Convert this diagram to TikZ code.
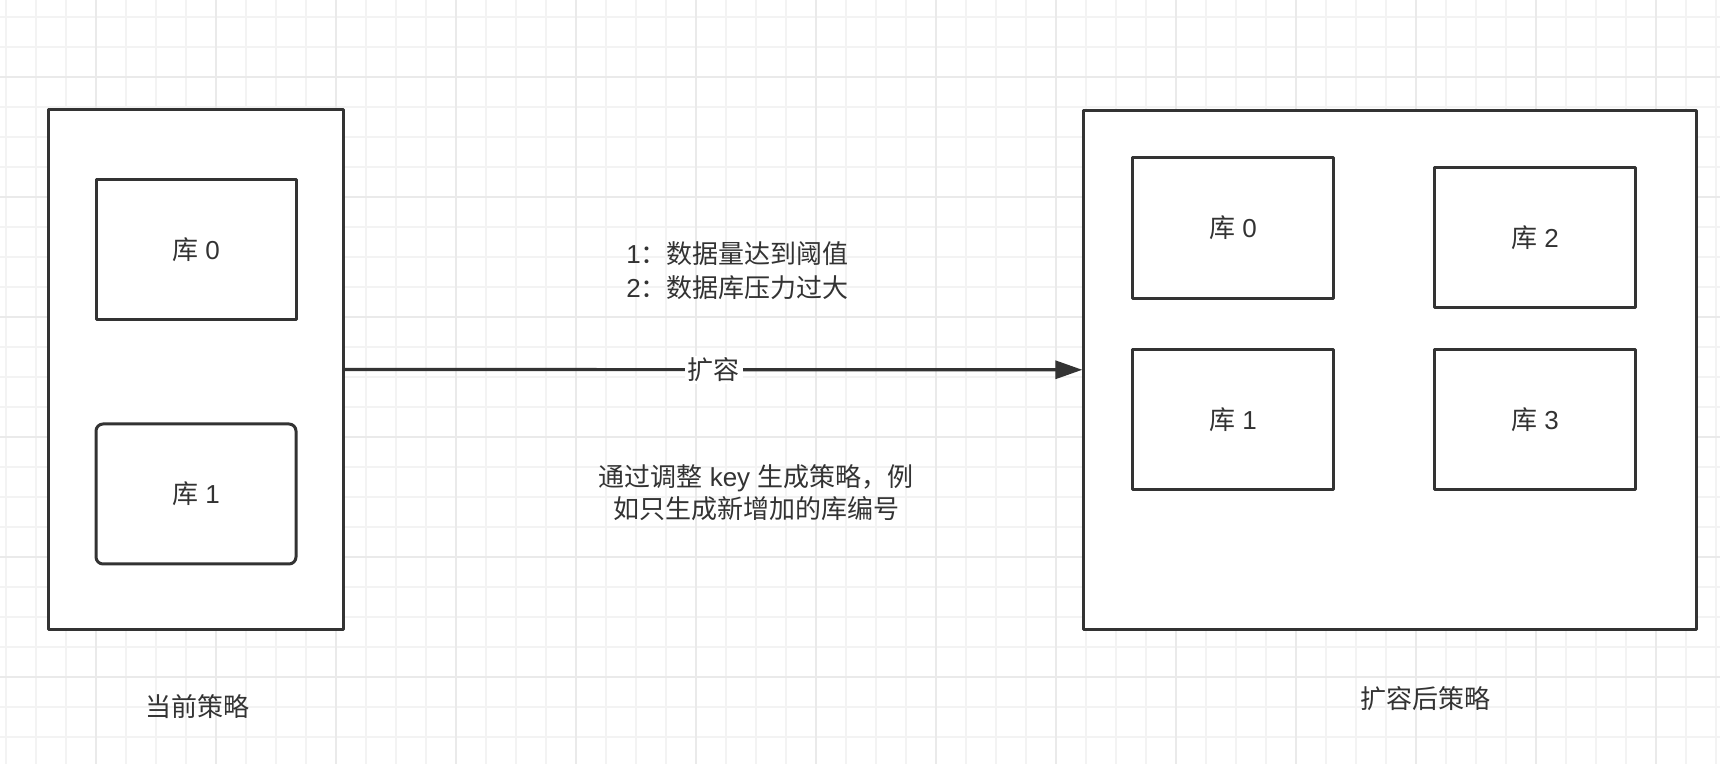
\documentclass[tikz,border=0pt]{standalone}
\usepackage{fontspec}
\setmainfont{Liberation Sans}
\newfontfamily\cjk{Noto Sans CJK SC}
\usetikzlibrary{arrows.meta}
\definecolor{ink}{HTML}{333333}
\definecolor{gridminor}{HTML}{F3F3F3}
\definecolor{gridmajor}{HTML}{EAEAEA}
\begin{document}
\begin{tikzpicture}[x=0.5pt,y=-0.5pt,
  line join=round,
  txt/.style={text=ink, font=\fontsize{13}{17}\selectfont, align=center, inner sep=0pt},
  dbbox/.style={draw=ink, line width=1.5pt, fill=white, text=ink, inner sep=0pt,
    minimum width=100pt, minimum height=70pt, font=\fontsize{13}{17}\selectfont},
  outerbox/.style={draw=ink, line width=1.5pt, fill=white, inner sep=0pt, minimum height=259.75pt},
  conn/.style={draw=ink, line width=1.6pt, -{Triangle[length=13.5pt,width=9pt]}},
  gminor/.style={draw=gridminor, line width=1pt},
  gmajor/.style={draw=gridmajor, line width=1pt}]
\useasboundingbox (0,0) rectangle (1720,764);
\fill[white] (0,0) rectangle (1720,764);
% grid
\foreach \k in {0,...,57} \draw[gminor] ({6+30*\k},0) -- ({6+30*\k},764);
\foreach \k in {0,...,25} \draw[gminor] (0,{16.7+30*\k}) -- (1720,{16.7+30*\k});
\foreach \k in {0,...,14} \draw[gmajor] ({96+120*\k},0) -- ({96+120*\k},764);
\foreach \k in {0,...,5} \draw[gmajor] (0,{76.7+120*\k}) -- (1720,{76.7+120*\k});
% outer boxes
\node[outerbox, minimum width=147.5pt] (L) at (195.8,369.5) {};
\node[outerbox, minimum width=306.15pt] (R) at (1390,369.8) {};
% left inner
\node[dbbox] (l0) at (196,249.5) {{\cjk 库} 0};
\node[dbbox, rounded corners=3.5pt] (l1) at (196,494) {{\cjk 库} 1};
% right inner
\node[dbbox, minimum width=100.75pt, minimum height=70.3pt] (r0) at (1233,228) {{\cjk 库} 0};
\node[dbbox, minimum width=100.75pt, minimum height=70.3pt] (r2) at (1535,237.7) {{\cjk 库} 2};
\node[dbbox, minimum width=100.75pt, minimum height=70.3pt] (r1) at (1233,419.6) {{\cjk 库} 1};
\node[dbbox, minimum width=100.75pt, minimum height=70.3pt] (r3) at (1535,419.6) {{\cjk 库} 3};
% captions
\node[txt] (lcap) at (197.5,706.5) {\cjk 当前策略};
\node[txt] (rcap) at (1425,699) {\cjk 扩容后策略};
% arrow
\draw[conn] (L.east) -- node[fill=white, inner xsep=1.5pt, inner ysep=1pt, text=ink, font=\fontsize{13}{17}\selectfont] (lab) {\cjk 扩容} (R.west);
% texts
\node[txt] (why) at (737.5,271) {1{\cjk ：数据量达到阈值}\\2{\cjk ：数据库压力过大}};
\node[txt, font=\fontsize{13}{16}\selectfont] (how) at (756,493) {{\cjk 通过调整} key {\cjk 生成策略，例}\\{\cjk 如只生成新增加的库编号}};
\end{tikzpicture}
\end{document}
